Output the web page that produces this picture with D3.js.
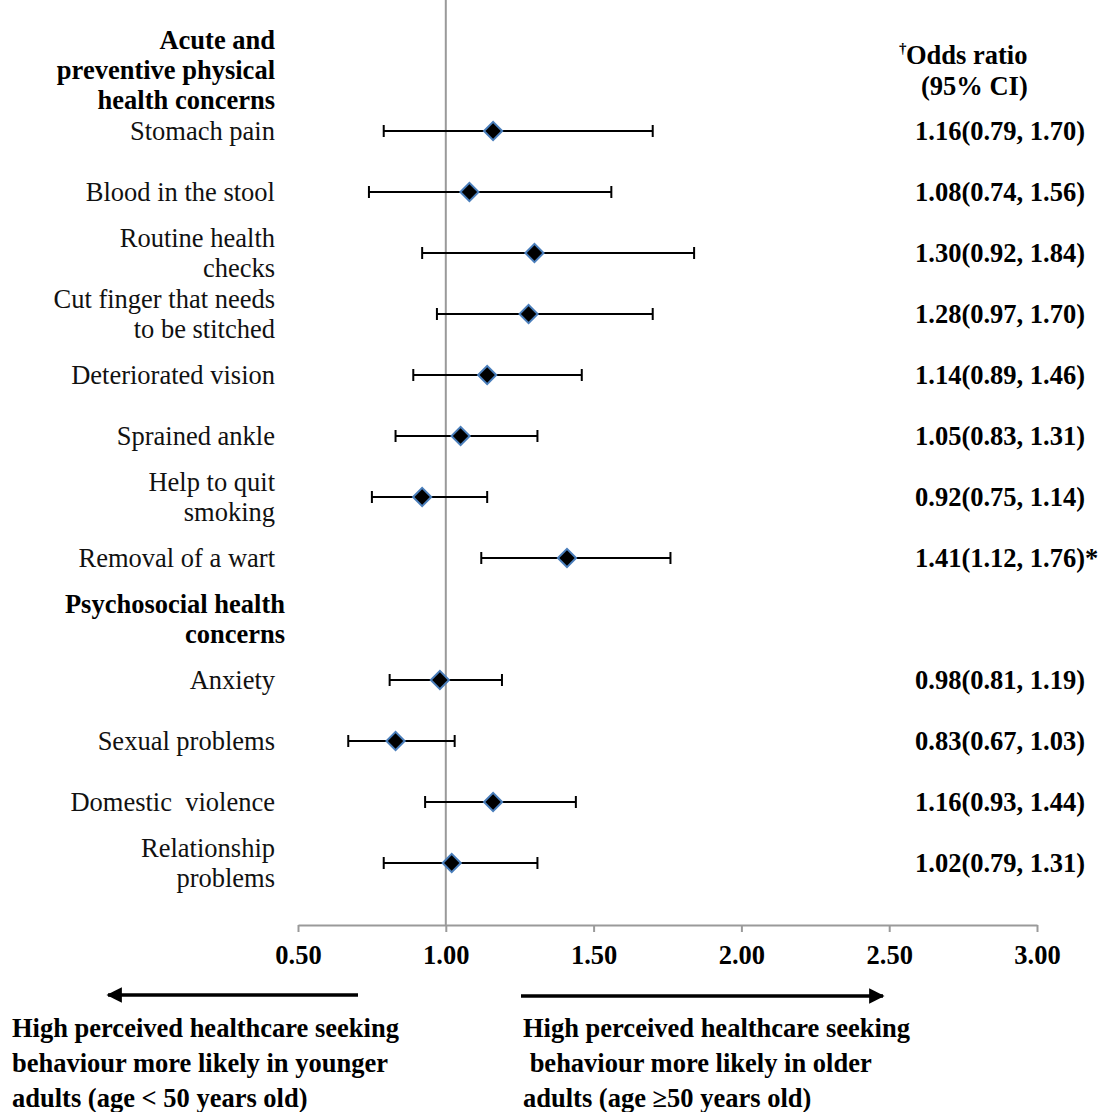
<!DOCTYPE html>
<html>
<head>
<meta charset="utf-8">
<script src="https://cdn.jsdelivr.net/npm/d3@7"></script>
<style>
  html, body { margin: 0; padding: 0; background: #fff; }
  svg { display: block; font-family: "Liberation Serif", "Times New Roman", serif; }
</style>
</head>
<body>
<svg id="chart" width="1114" height="1112"></svg>
<script>
// Rows of the forest plot (top to bottom); header rows have no estimate
const rowKeys = ["stomach", "blood", "routine", "cut", "vision", "ankle", "smoking", "wart",
                 "psychHeader", "anxiety", "sexual", "domestic", "relationship"];
const rowLabels = [
  ["Stomach pain"], ["Blood in the stool"], ["Routine health", "checks"],
  ["Cut finger that needs", "to be stitched"], ["Deteriorated vision"], ["Sprained ankle"],
  ["Help to quit", "smoking"], ["Removal of a wart"], null,
  ["Anxiety"], ["Sexual problems"], ["Domestic  violence"], ["Relationship", "problems"]
];
const oddsRatio = [1.16, 1.08, 1.30, 1.28, 1.14, 1.05, 0.92, 1.41, null, 0.98, 0.83, 1.16, 1.02];
const ciLower   = [0.79, 0.74, 0.92, 0.97, 0.89, 0.83, 0.75, 1.12, null, 0.81, 0.67, 0.93, 0.79];
const ciUpper   = [1.70, 1.56, 1.84, 1.70, 1.46, 1.31, 1.14, 1.76, null, 1.19, 1.03, 1.44, 1.31];
const significant = [false, false, false, false, false, false, false, true, false, false, false, false, false];

const xTicks = [0.5, 1.0, 1.5, 2.0, 2.5, 3.0];
const groupHeaders = [["Acute and", "preventive physical", "health concerns"], ["Psychosocial health", "concerns"]];
const ciHeader = ["Odds ratio", "(95% CI)"];
const leftNote = ["High perceived healthcare seeking", "behaviour more likely in younger", "adults (age < 50 years old)"];
const rightNote = ["High perceived healthcare seeking", " behaviour more likely in older", "adults (age \u226550 years old)"];

const svg = d3.select("#chart");
const fs = 26.5, lh = 30;

const x = d3.scaleLinear().domain([0.5, 3.0]).range([298, 1037]);
const y = d3.scalePoint().domain(rowKeys).range([131, 863]);
const axisY = 925;

const rows = rowKeys.map((k, i) => ({
  key: k, label: rowLabels[i], or: oddsRatio[i], lo: ciLower[i], hi: ciUpper[i], sig: significant[i]
}));

// Reference line at OR = 1
svg.append("line")
  .attr("x1", x(1)).attr("x2", x(1)).attr("y1", 0).attr("y2", axisY)
  .attr("stroke", "#9a9a9a").attr("stroke-width", 2);

// X axis
const axis = svg.append("g").attr("transform", `translate(0,${axisY})`)
  .call(d3.axisBottom(x).tickValues(xTicks).tickFormat(d3.format(".2f")).tickSize(7).tickSizeOuter(0));
axis.select(".domain").attr("stroke", "#9a9a9a").attr("stroke-width", 2);
axis.selectAll(".tick line").attr("stroke", "#9a9a9a").attr("stroke-width", 2);
axis.selectAll(".tick text")
  .attr("y", 30).attr("dy", "0.35em")
  .attr("fill", "#000").attr("font-size", fs).attr("font-weight", "bold")
  .attr("font-family", "Liberation Serif, Times New Roman, serif");

// Row labels
const labelX = 275;
rows.filter(r => r.label).forEach(r => {
  const n = r.label.length;
  const t = svg.append("text").attr("text-anchor", "end").attr("font-size", fs).attr("fill", "#111")
    .attr("xml:space", "preserve");
  r.label.forEach((line, j) => {
    t.append("tspan").attr("x", labelX)
      .attr("y", y(r.key) + (j - (n - 1) / 2) * lh)
      .attr("dy", "0.35em").text(line);
  });
});

// Group headers
const h1 = svg.append("text").attr("text-anchor", "end").attr("font-size", fs).attr("font-weight", "bold");
groupHeaders[0].forEach((line, j) => {
  h1.append("tspan").attr("x", labelX).attr("y", y("stomach") - 91 + j * lh).attr("dy", "0.35em").text(line);
});
const h2 = svg.append("text").attr("text-anchor", "end").attr("font-size", fs).attr("font-weight", "bold");
groupHeaders[1].forEach((line, j) => {
  h2.append("tspan").attr("x", 285).attr("y", y("psychHeader") - 15 + j * lh).attr("dy", "0.35em").text(line);
});

// Confidence intervals and point estimates
const est = rows.filter(r => r.or != null);
const g = svg.append("g");
est.forEach(r => {
  const cy = y(r.key);
  g.append("line").attr("x1", x(r.lo)).attr("x2", x(r.hi)).attr("y1", cy).attr("y2", cy)
    .attr("stroke", "#000").attr("stroke-width", 2);
  [r.lo, r.hi].forEach(v => {
    g.append("line").attr("x1", x(v)).attr("x2", x(v)).attr("y1", cy - 6).attr("y2", cy + 6)
      .attr("stroke", "#000").attr("stroke-width", 2);
  });
  g.append("path")
    .attr("d", d3.symbol().type(d3.symbolSquare).size(165)())
    .attr("transform", `translate(${x(r.or)},${cy}) rotate(45)`)
    .attr("fill", "#000").attr("stroke", "#4a7ebb").attr("stroke-width", 2);
});

// Odds ratio column
const ciX = 915;
svg.append("text").attr("x", 899).attr("y", 48).attr("font-size", 15).attr("font-weight", "bold")
  .attr("dy", "0.35em").text("\u2020");
svg.append("text").attr("x", 906).attr("y", 55).attr("dy", "0.35em")
  .attr("font-size", fs).attr("font-weight", "bold").text(ciHeader[0]);
svg.append("text").attr("x", 921).attr("y", 86).attr("dy", "0.35em")
  .attr("font-size", fs).attr("font-weight", "bold").text(ciHeader[1]);

const f2 = d3.format(".2f");
est.forEach(r => {
  svg.append("text").attr("x", ciX).attr("y", y(r.key)).attr("dy", "0.35em")
    .attr("font-size", fs).attr("font-weight", "bold")
    .text(`${f2(r.or)}(${f2(r.lo)}, ${f2(r.hi)})${r.sig ? "*" : ""}`);
});

// Direction arrows
const defs = svg.append("defs");
defs.append("marker").attr("id", "arrowHead").attr("viewBox", "0 0 10 10")
  .attr("refX", 9).attr("refY", 5).attr("markerWidth", 5).attr("markerHeight", 4.4)
  .attr("markerUnits", "strokeWidth").attr("orient", "auto")
  .append("path").attr("d", "M0,0 L10,5 L0,10 Z").attr("fill", "#000");

svg.append("line").attr("x1", 358).attr("x2", 108).attr("y1", 995).attr("y2", 995)
  .attr("stroke", "#000").attr("stroke-width", 3.5).attr("marker-end", "url(#arrowHead)");
svg.append("line").attr("x1", 521).attr("x2", 883).attr("y1", 996).attr("y2", 996)
  .attr("stroke", "#000").attr("stroke-width", 3.5).attr("marker-end", "url(#arrowHead)");

// Direction notes
function note(lines, x0) {
  const t = svg.append("text").attr("font-size", fs).attr("font-weight", "bold").attr("xml:space", "preserve");
  lines.forEach((line, j) => {
    t.append("tspan").attr("x", x0).attr("y", 1028 + j * 35).attr("dy", "0.35em").text(line);
  });
}
note(leftNote, 12);
note(rightNote, 523);
</script>
</body>
</html>
